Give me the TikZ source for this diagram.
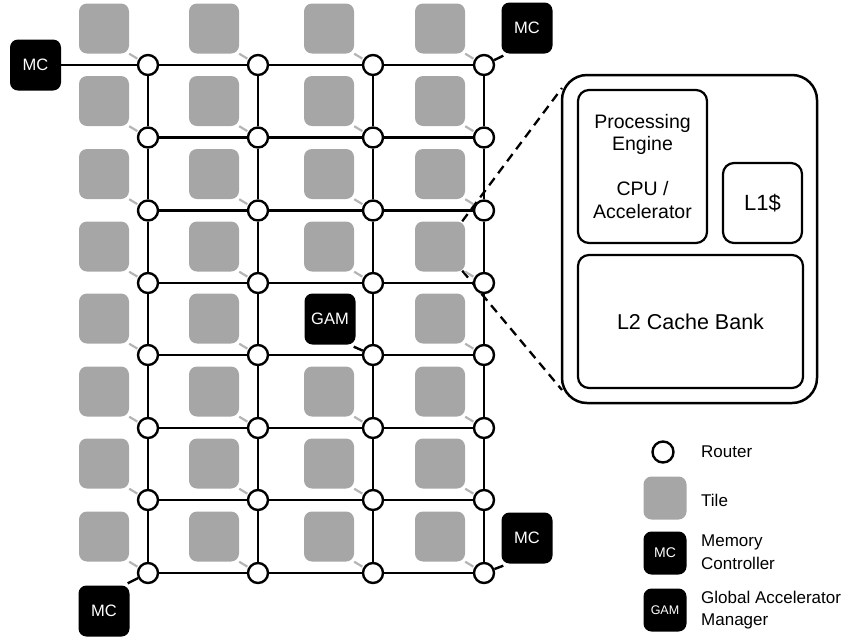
\documentclass[tikz,border=0pt]{standalone}
\usepackage{fontspec}
\setmainfont{Liberation Sans}
\definecolor{tilegray}{RGB}{166,166,166}
\definecolor{linkgray}{RGB}{180,180,180}
\begin{document}
\begin{tikzpicture}[x=1pt,y=-1pt,
  router/.style={circle,draw,line width=2.4pt,fill=white,minimum size=20pt,inner sep=0pt},
  tile/.style={fill=tilegray,rounded corners=8pt,minimum size=50pt,inner sep=0pt},
  blk/.style={fill=black,text=white,rounded corners=8pt,minimum size=51pt,inner sep=0pt,font=\fontsize{16.5}{18}\selectfont},
  link/.style={line width=2.4pt},
  tlink/.style={line width=2.2pt,draw=linkgray,shorten >=1.2pt},
  zoomline/.style={line width=2.3pt,dash pattern=on 9pt off 6pt},
  outerbox/.style={draw,line width=2.5pt,rounded corners=25pt,inner sep=0pt},
  innerbox/.style={draw,line width=2.2pt,rounded corners=11pt,inner sep=0pt,align=center,font=\fontsize{21.5}{22.5}\selectfont},
  legtext/.style={anchor=west,inner sep=0pt,align=left,font=\fontsize{17}{22.5}\selectfont}
]
\useasboundingbox (0,0) rectangle (845,638);

% tiles
\foreach \x [count=\i] in {148,258,373,484} {
  \foreach \y [count=\j] in {65,137.5,210.5,283,355,428,500,573} {
    \ifnum\numexpr\i*10+\j\relax=35 \else
      \node[tile] (t-\i-\j) at ({\x-44},{\y-36.5}) {};
    \fi
  }
}

% detail box and zoom lines
\node[outerbox,minimum width=255pt,minimum height=328pt] (detail) at (689.5,239) {};
\coordinate (d1) at (562,88);
\coordinate (d2) at (562,390);
\draw[zoomline] ([xshift=-3pt]t-4-4.north east) -- (d1);
\draw[zoomline] ([xshift=-3pt,yshift=1pt]t-4-4.south east) -- (d2);

\node[innerbox,minimum width=129pt,minimum height=153pt,font=\fontsize{19.5}{22.5}\selectfont] (pe) at (642.5,166.5)
  {Processing\\Engine\\[22.5pt]CPU /\\Accelerator};
\node[innerbox,minimum width=79pt,minimum height=80pt,font=\fontsize{22}{24}\selectfont] (l1) at (762.5,203) {L1\$};
\node[innerbox,minimum width=225pt,minimum height=133pt] (l2) at (690.5,321.5) {L2 Cache Bank};

% routers
\foreach \x [count=\i] in {148,258,373,484} {
  \foreach \y [count=\j] in {65,137.5,210.5,283,355,428,500,573} {
    \node[router] (r-\i-\j) at (\x,\y) {};
  }
}

% tile links
\foreach \i in {1,...,4} {
  \foreach \j in {1,...,8} {
    \ifnum\numexpr\i*10+\j\relax=35 \else
      \draw[tlink] (t-\i-\j.south east) -- (r-\i-\j);
    \fi
  }
}

% mesh
\foreach \j in {1,...,8} {
  \foreach \i/\k in {1/2,2/3,3/4} {
    \draw[link] (r-\i-\j) -- (r-\k-\j);
  }
}
\foreach \i in {1,...,4} {
  \foreach \j/\k in {1/2,2/3,3/4,4/5,5/6,6/7,7/8} {
    \draw[link] (r-\i-\j) -- (r-\i-\k);
  }
}

% memory controllers and GAM
\node[blk] (mc1) at (35.5,65) {MC};
\node[blk] (mc2) at (527,28) {MC};
\node[blk] (mc3) at (527,538) {MC};
\node[blk] (mc4) at (104,611) {MC};
\node[blk] (gam) at (330,319) {GAM};
\draw[link] (mc1.east) -- (r-1-1);
\draw[link] ([shift={(2pt,-2pt)}]mc2.south west) -- (r-4-1);
\draw[link] ([shift={(2pt,-2pt)}]mc3.south west) -- (r-4-8);
\draw[link] ([shift={(-2pt,2pt)}]mc4.north east) -- (r-1-8);
\draw[link] ([shift={(-2pt,-2pt)}]gam.south east) -- (r-3-5);

% legend
\node[router,minimum size=21pt] (lr) at (663,452) {};
\node[legtext] (lrt) at (701,452) {Router};
\node[tile,minimum size=43pt] (lt) at (665,498) {};
\node[legtext] (ltt) at (701,500) {Tile};
\node[blk,minimum size=43pt,font=\fontsize{14}{15}\selectfont] (lmc) at (665,553) {MC};
\node[legtext] (lmct) at (701,552) {Memory\\Controller};
\node[blk,minimum size=43pt,font=\fontsize{12.5}{15}\selectfont] (lgam) at (665,610) {GAM};
\node[legtext] (lgamt) at (701,610) {Global Accelerator\\Manager};
\end{tikzpicture}
\end{document}
